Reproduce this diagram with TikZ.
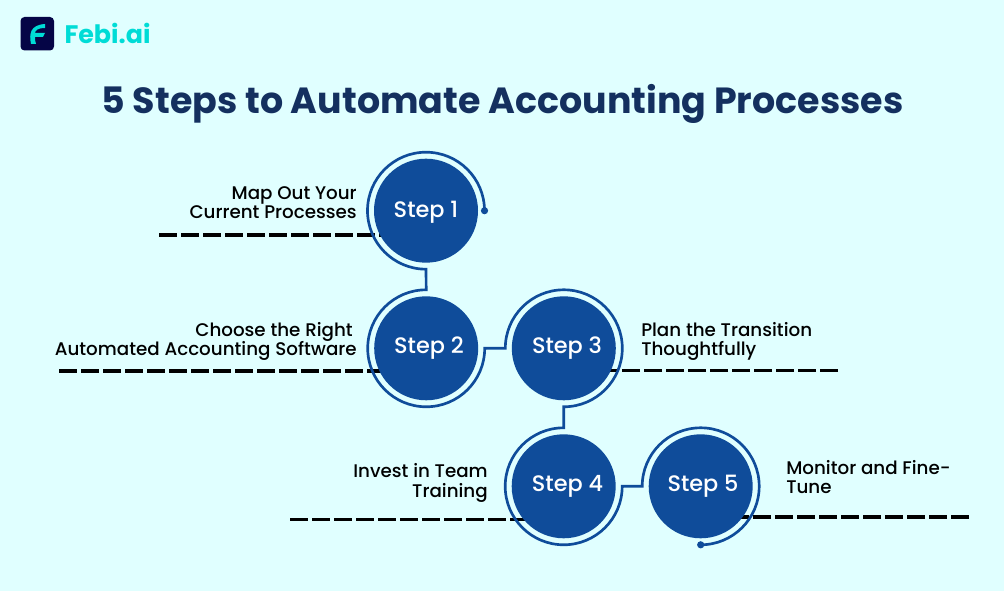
\documentclass[tikz,border=0pt]{standalone}
\usepackage{fontspec}
\usepackage{xcolor}
\setmainfont{Poppins}
\newfontfamily\mediumfont{Poppins Medium}
\usetikzlibrary{
	arrows.meta,
	calc,
	positioning
}
\definecolor{PaleCyan}{RGB}{224,255,255}
\definecolor{StepBlue}{RGB}{15,76,154}
\definecolor{TitleNavy}{RGB}{20,48,95}
\definecolor{LogoNavy}{RGB}{5,5,70}
\definecolor{LogoCyan}{RGB}{0,220,214}
\tikzset{
	stepdisc/.style={circle, fill=StepBlue, minimum size=78pt, inner sep=0pt},
	steptext/.style={text=white, inner sep=0pt, font=\mediumfont\fontsize{16.8}{20}\selectfont},
	ringline/.style={line width=2pt, draw=StepBlue},
	leader/.style={line width=2.5pt, black, dash pattern=on 13.5pt off 3pt},
	caption/.style={font=\mediumfont\fontsize{13.72}{14.6}\selectfont, black, inner sep=0pt}
}

\begin{document}
\begin{tikzpicture}[x=0.75pt, y=-0.75pt]
		\pgfmathsetmacro{\r}{58.5}
		\useasboundingbox[fill=PaleCyan] (0,0) rectangle (1004,591);
		
		% logo
		\fill[LogoNavy, rounded corners=3pt] (20.5,17) rectangle (54,50.5);
		\fill[LogoCyan] (31,44) .. controls (29,34) and (30,25) .. (45,24) -- (45,28) .. controls (37,28) and (35,31) .. (35,33) -- (45,33) -- (43,37) -- (35,37) .. controls (35,39) and (35,42) .. (36,44) -- cycle;
		\node[font=\fontsize{19}{22}\selectfont\bfseries, text=LogoCyan, inner sep=0pt] (brand) at (107.5,33.5) {Febi.ai};
		
		% title
		\node[font=\fontsize{27.3}{33}\selectfont\bfseries, text=TitleNavy, inner sep=0pt] (title) at (502.5,104) {5 Steps to Automate Accounting Processes};
		
		% leader lines
		\coordinate (L1) at (159,235);
		\coordinate (L2) at (59,371);
		\coordinate (L3) at (838,370.5);
		\coordinate (L4) at (290,519.5);
		\coordinate (L5) at (969,517);
		\draw[leader] (L1) -- (426,235);
		\draw[leader] (L2) -- (426,371);
		\draw[leader] (L3) -- (564,370.5);
		\draw[leader] (L4) -- (564,519.5);
		\draw[leader] (L5) -- (701,517);
		
		% discs
		\node[stepdisc] (step1) at (426,210.7) {};
		\node[stepdisc] (step2) at (426.2,348.3) {};
		\node[stepdisc] (step3) at (563.8,348.3) {};
		\node[stepdisc] (step4) at (563.7,486.3) {};
		\node[stepdisc] (step5) at (700.7,486.3) {};
		\node[steptext] (text1) at (426,212) {Step 1};
		\node[steptext] (text2) at (429,348.5) {Step 2};
		\node[steptext] (text3) at (567,348.5) {Step 3};
		\node[steptext] (text4) at (567.5,486.5) {Step 4};
		\node[steptext] (text5) at (703,486.5) {Step 5};
		
		% ring running round the discs
		\draw[ringline] ($(step1.center)+(\r,0)$) arc[start angle=0, end angle=270, x radius=\r, y radius=-\r]
			-- ($(step2.center)+(0,-\r)$) arc[start angle=90, end angle=360, x radius=\r, y radius=-\r]
			-- ($(step3.center)+(-\r,0)$) arc[start angle=180, end angle=-90, x radius=\r, y radius=-\r]
			-- ($(step4.center)+(0,-\r)$) arc[start angle=90, end angle=360, x radius=\r, y radius=-\r]
			-- ($(step5.center)+(-\r,0)$) arc[start angle=180, end angle=-90, x radius=\r, y radius=-\r] coordinate (ringend);
		\fill[StepBlue] ($(step1.center)+(\r,0)$) circle (2.7pt);
		\fill[StepBlue] (ringend) circle (2.7pt);
		
		% captions
		\node[caption, align=right, anchor=east] (cap1) at (357,202.7) {Map Out Your\\Current Processes};
		\node[caption, align=right, anchor=east] (cap2) at (357,341.5) {Choose the Right\kern3pt\\Automated Accounting Software};
		\node[caption, align=left, anchor=west] (cap3) at (641,341.5) {Plan the Transition\\Thoughtfully};
		\node[caption, align=right, anchor=east] (cap4) at (488,483) {Invest in Team\\Training};
		\node[caption, align=left, anchor=west] (cap5) at (786,477.2) {Monitor and Fine-\\Tune};
	\end{tikzpicture}
\end{document}
